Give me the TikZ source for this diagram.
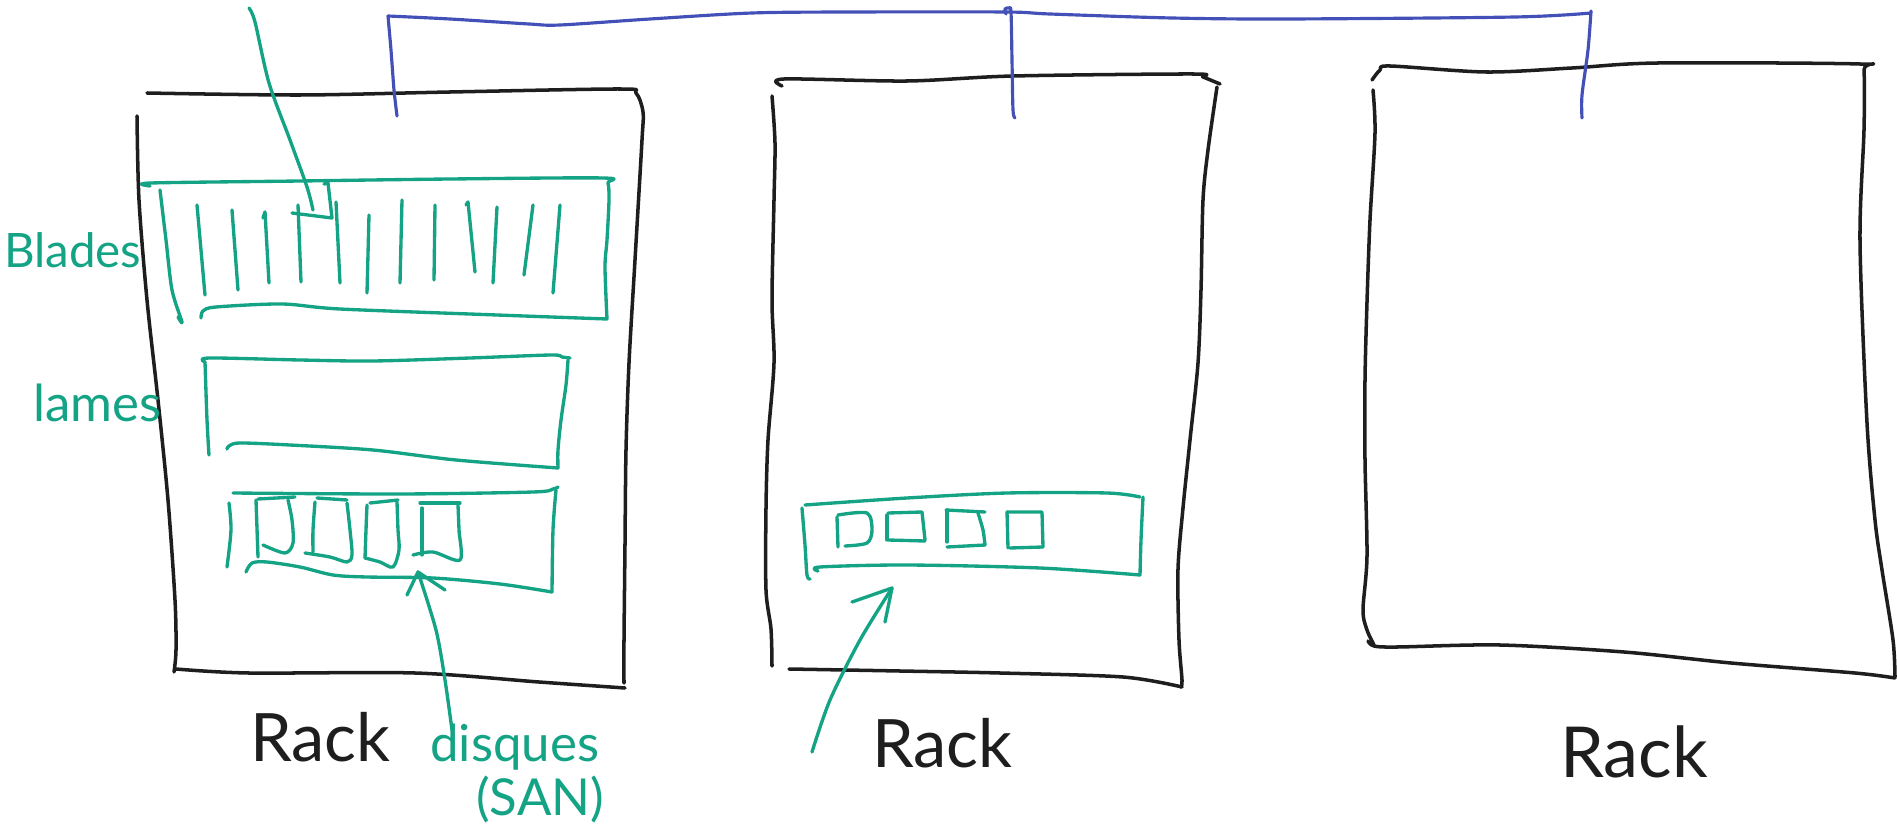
\documentclass[tikz,border=0pt]{standalone}
\usepackage{fontspec}
\setmainfont{Lato}
\definecolor{pen}{HTML}{1E1E1E}
\definecolor{sketchgreen}{HTML}{14A384}
\definecolor{sketchblue}{HTML}{4350B8}
\tikzset{
  ink/.style={draw=pen, line width=2pt, line cap=round, line join=round},
  gink/.style={draw=sketchgreen, line width=1.9pt, line cap=round, line join=round},
  bink/.style={draw=sketchblue, line width=1.8pt, line cap=round, line join=round},
  rlabel/.style={text=pen, inner sep=0pt, anchor=base west, font=\fontsize{38}{40}\selectfont},
  glabel/.style={text=sketchgreen, inner sep=0pt, anchor=base west},
}
\begin{document}
\begin{tikzpicture}[x=0.02cm, y=-0.02cm]
\useasboundingbox (0,0) rectangle (1897,824);

% ---------- rack frames ----------
% rack 1
\draw[ink] plot[smooth, tension=0.5] coordinates {(147,93) (300,95) (450,92) (620,89) (636,93) (643,112) (642,140) (635,260) (629,363) (626,450) (625,544) (624,640) (624,683)};
\draw[ink] plot[smooth, tension=0.5] coordinates {(176,669) (249,673) (415,673) (539,682) (625,688)};
\draw[ink] plot[smooth, tension=0.5] coordinates {(137,116) (139,200) (147,300) (158,400) (168,500) (175,600) (176,650) (174,672)};
% rack 2
\draw[ink] plot[smooth, tension=0.5] coordinates {(782,86) (784,79) (907,81) (1013,76) (1193,74) (1203,77) (1220,84)};
\draw[ink] plot[smooth, tension=0.5] coordinates {(1217,87) (1208,150) (1203,200) (1201,290) (1198,363) (1190,440) (1183,508) (1178,569) (1179,640) (1182,680) (1181,687)};
\draw[ink] plot[smooth, tension=0.5] coordinates {(789,669) (900,671) (1000,673) (1123,677) (1182,687)};
\draw[ink] plot[smooth, tension=0.5] coordinates {(772,96) (775,143) (774,200) (772,300) (774,363) (768,440) (766,508) (766,590) (771,629) (772,666)};
% rack 3
\draw[ink] plot[smooth, tension=0.5] coordinates {(1372,80) (1380,70) (1390,66) (1486,72) (1572,68) (1658,63) (1860,64) (1864,70) (1864,130) (1860,242) (1867,423) (1875,520) (1882,570) (1893,640) (1895,677)};
\draw[ink] plot[smooth, tension=0.5] coordinates {(1368,641) (1374,646) (1397,647) (1500,645) (1624,652) (1731,663) (1855,673) (1895,678)};
\draw[ink] plot[smooth, tension=0.5] coordinates {(1373,90) (1375,133) (1370,220) (1367,302) (1365,380) (1365,460) (1367,556) (1363,610) (1367,630) (1374,645)};

% ---------- network bus ----------
\coordinate (drop1) at (397,116);
\coordinate (drop2) at (1015,118);
\coordinate (drop3) at (1582,118);
\draw[bink] plot[smooth, tension=0.4] coordinates {(drop1) (394,90) (391,50) (388,16)}
  -- plot[smooth, tension=0.5] coordinates {(388,16) (450,19) (529,24) (560,25) (650,19) (752,13) (850,12) (1006,12) (1050,14) (1172,18) (1286,19) (1515,17) (1591,13)};
\draw[bink] plot[smooth, tension=0.5] coordinates {(1006,14) (1005,9) (1009,8) (1011,12) (1012,60) (1013,110) (drop2)};
\draw[bink] plot[smooth, tension=0.5] coordinates {(1591,11) (1588,50) (1582,95) (drop3)};

% ---------- rack 1 : blades ----------
\draw[gink] plot[smooth, tension=0.5] coordinates {(150,186) (151,183) (300,181) (450,179) (603,178) (608,183) (609,200) (607,240) (605,267) (607,319)};
\draw[gink] plot[smooth, tension=0.5] coordinates {(607,319) (497,315) (340,309) (282,304) (216,307) (203,311) (201,318)};
\draw[gink] plot[smooth, tension=0.5] coordinates {(160,190) (166,240) (172,290) (182,322) (178,317)};
\foreach \xa/\ya/\xb/\yb in {197/205/205/295, 232/210/238/290, 265/212/269/283, 298/205/301/282,
  336/202/340/283, 369/215/367/293, 402/200/400/283, 435/205/434/280, 468/202/475/272,
  497/207/493/283, 533/205/524/275, 560/205/553/293}
  \draw[gink] (\xa,\ya) -- (\xb,\yb);
\draw[gink] (263,218) -- (265,212);
\draw[gink] (466,205) -- (468,202);

% arrow pointing at one blade
\coordinate (bladesrc) at (249,8);
\coordinate (bladetip) at (313,210);
\draw[gink] plot[smooth, tension=0.5] coordinates {(bladesrc) (255,22) (269,83) (290,140) (307,187) (bladetip)};
\draw[gink] (292,213) -- (332,218) -- (328,183) -- (324,184);

% ---------- rack 1 : middle box ----------
\draw[gink] plot[smooth, tension=0.5] coordinates {(205,362) (209,358) (300,360) (373,361) (470,358) (551,355) (562,357) (570,358)};
\draw[gink] plot[smooth, tension=0.5] coordinates {(568,360) (566,385) (561,420) (558,450) (558,468)};
\draw[gink] plot[smooth, tension=0.5] coordinates {(558,468) (456,460) (373,450) (290,445) (240,443) (229,446) (227,449)};
\draw[gink] plot[smooth, tension=0.5] coordinates {(205,362) (207,420) (209,455)};

% ---------- rack 1 : disk shelf ----------
\draw[gink] plot[smooth, tension=0.5] coordinates {(233,493) (400,494) (533,492) (553,489) (558,487)};
\draw[gink] plot[smooth, tension=0.5] coordinates {(556,490) (553,530) (552,592)};
\draw[gink] plot[smooth, tension=0.5] coordinates {(552,592) (500,584) (433,578) (367,577) (333,575) (300,567) (267,562) (252,563) (246,572)};
\draw[gink] plot[smooth, tension=0.5] coordinates {(229,503) (231,530) (227,567)};
% disks
\draw[gink] (256,500) -- (258,557);
\draw[gink] (258,499) -- (295,497);
\draw[gink] plot[smooth, tension=0.5] coordinates {(288,500) (292,520) (293,543) (285,553) (263,545)};
\draw[gink] (317,498) -- (347,500);
\draw[gink] plot[smooth, tension=0.5] coordinates {(315,502) (313,530) (313,552)};
\draw[gink] plot[smooth, tension=0.5] coordinates {(305,553) (330,557) (347,562) (352,555) (350,530) (347,503)};
\draw[gink] (370,503) -- (398,500);
\draw[gink] plot[smooth, tension=0.5] coordinates {(367,505) (366,530) (365,558)};
\draw[gink] plot[smooth, tension=0.5] coordinates {(365,558) (380,562) (393,567) (399,550) (398,530) (397,502)};
\draw[gink] (420,503) -- (460,503);
\draw[gink] plot[smooth, tension=0.5] coordinates {(422,508) (422,530) (422,555)};
\draw[gink] plot[smooth, tension=0.5] coordinates {(413,555) (433,552) (460,560) (459,530) (458,505)};

% arrow from the SAN label
\coordinate (sansrc) at (452,730);
\coordinate (santip) at (418,572);
\draw[gink] plot[smooth, tension=0.5] coordinates {(sansrc) (445,680) (436,630) (santip)};
\draw[gink] (407,595) -- (santip) -- (445,590);

% ---------- rack 2 : disk shelf ----------
\draw[gink] plot[smooth, tension=0.5] coordinates {(805,505) (907,498) (1007,493) (1107,493) (1140,497)};
\draw[gink] plot[smooth, tension=0.5] coordinates {(1143,497) (1141,540) (1140,575)};
\draw[gink] plot[smooth, tension=0.5] coordinates {(1140,575) (1040,568) (907,565) (820,567) (818,571)};
\draw[gink] plot[smooth, tension=0.5] coordinates {(802,508) (805,545) (807,575) (810,579)};
% disks
\draw[gink] (837,517) -- (838,547);
\draw[gink] plot[smooth, tension=0.5] coordinates {(838,515) (867,513) (872,530) (867,543) (845,546)};
\draw[gink] (887,515) -- (887,540);
\draw[gink] (888,513) -- (922,512) -- (925,540);
\draw[gink] (888,540) -- (925,541);
\draw[gink] (947,510) -- (947,542);
\draw[gink] (946,510) -- (985,512);
\draw[gink] plot[smooth, tension=0.5] coordinates {(978,513) (983,530) (985,545)};
\draw[gink] (947,547) -- (985,545);
\draw[gink] (1007,512) -- (1008,548);
\draw[gink] (1007,512) -- (1042,512) -- (1043,547);
\draw[gink] (1010,548) -- (1043,547);

% arrow towards the shelf
\coordinate (shelfsrc) at (812,752);
\coordinate (shelftip) at (892,588);
\draw[gink] plot[smooth, tension=0.5] coordinates {(shelfsrc) (830,700) (860,640) (shelftip)};
\draw[gink] (852,602) -- (shelftip) -- (885,622);

% ---------- labels ----------
\node[glabel, font=\fontsize{27}{29}\selectfont] (blades) at (4,268) {Blades};
\node[glabel, font=\fontsize{29}{31}\selectfont] (lames) at (33,421) {lames};
\node[rlabel] (rack1) at (250,761) {Rack};
\node[glabel, font=\fontsize{29}{31}\selectfont] (disques) at (430,761) {disques};
\node[glabel, font=\fontsize{29}{31}\selectfont] (san) at (476,815) {(SAN)};
\node[rlabel] (rack2) at (872,767) {Rack};
\node[rlabel, font=\fontsize{40}{42}\selectfont] (rack3) at (1560,777) {Rack};
\end{tikzpicture}
\end{document}
